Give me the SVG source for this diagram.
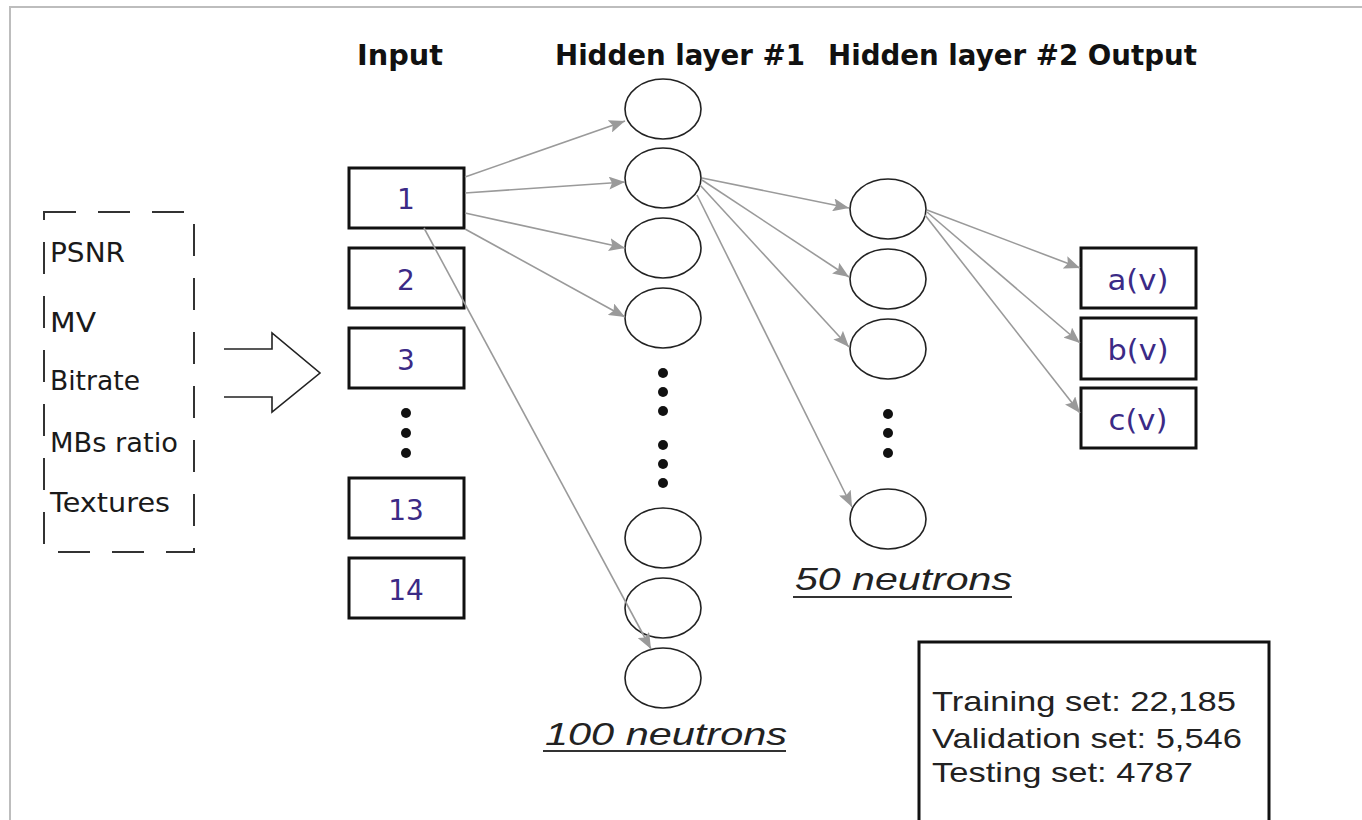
<svg xmlns="http://www.w3.org/2000/svg" width="1362" height="820" viewBox="0 0 1362 820">
  <style>
    .title { font-family: "DejaVu Sans", Verdana, sans-serif; font-weight: bold; font-size: 27.5px; fill: #111; }
    .feat { font-family: "DejaVu Sans", Verdana, sans-serif; font-size: 27px; fill: #1a1a1a; }
    .num { font-family: "DejaVu Sans", Verdana, sans-serif; font-size: 28px; fill: #3b2a86; text-anchor: middle; }
    .box { fill: #fff; stroke: #111; stroke-width: 3; }
    .neuron { fill: #fff; stroke: #222; stroke-width: 1.6; }
    .dot { fill: #111; }
    .edge { fill: none; stroke: #9a9a9a; stroke-width: 1.6; marker-end: url(#arrow); }
    .count { font-family: "Liberation Sans", Arial, sans-serif; font-style: italic; font-size: 32px; fill: #222; }
    .info { font-family: "Liberation Sans", Arial, sans-serif; font-size: 28px; fill: #222; }
  </style>
  <defs>
    <marker id="arrow" markerUnits="userSpaceOnUse" markerWidth="17" markerHeight="13" refX="16" refY="6.5" orient="auto">
      <path d="M0,0 L16,6.5 L0,13 L3,6.5 z" fill="#9a9a9a"/>
    </marker>
  </defs>

  <rect width="1362" height="820" fill="#fff"/>
  <!-- page frame -->
  <path d="M10,820 V7 H1362" fill="none" stroke="#bdbdbd" stroke-width="2"/>

  <!-- column headings -->
  <text class="title" x="357" y="65" textLength="86" lengthAdjust="spacingAndGlyphs">Input</text>
  <text class="title" x="555" y="65" textLength="250" lengthAdjust="spacingAndGlyphs">Hidden layer #1</text>
  <text class="title" x="828" y="65" textLength="369" lengthAdjust="spacingAndGlyphs">Hidden layer #2 Output</text>

  <!-- feature list -->
  <g id="features">
    <rect x="44" y="212" width="150" height="340" fill="none" stroke="#333" stroke-width="2" stroke-dasharray="32 22"/>
    <text class="feat" x="50" y="262" textLength="75" lengthAdjust="spacingAndGlyphs">PSNR</text>
    <text class="feat" x="50" y="332" textLength="46" lengthAdjust="spacingAndGlyphs">MV</text>
    <text class="feat" x="50" y="390" textLength="90" lengthAdjust="spacingAndGlyphs">Bitrate</text>
    <text class="feat" x="50" y="452" textLength="128" lengthAdjust="spacingAndGlyphs">MBs ratio</text>
    <text class="feat" x="50" y="512" textLength="120" lengthAdjust="spacingAndGlyphs">Textures</text>
  </g>

  <!-- block arrow feeding the inputs -->
  <g id="feed-arrow">
    <path d="M224,349 H272 V333 L320,373 L272,412 V397 H224" fill="#fff" stroke="#222" stroke-width="1.6"/>
  </g>

  <!-- input layer -->
  <g id="in1"><rect class="box" x="349" y="168" width="115" height="60"/><text class="num" x="406" y="209">1</text></g>
  <g id="in2"><rect class="box" x="349" y="248" width="115" height="60"/><text class="num" x="406" y="290">2</text></g>
  <g id="in3"><rect class="box" x="349" y="328" width="115" height="60"/><text class="num" x="406" y="370">3</text></g>
  <g id="in-dots"><circle class="dot" cx="406" cy="413" r="5"/><circle class="dot" cx="406" cy="433" r="5"/><circle class="dot" cx="406" cy="453" r="5"/></g>
  <g id="in13"><rect class="box" x="349" y="478" width="115" height="60"/><text class="num" x="406" y="520">13</text></g>
  <g id="in14"><rect class="box" x="349" y="558" width="115" height="60"/><text class="num" x="406" y="600">14</text></g>

  <!-- hidden layer 1 -->
  <g id="h1-1"><ellipse class="neuron" cx="663" cy="109" rx="38" ry="30"/></g>
  <g id="h1-2"><ellipse class="neuron" cx="663" cy="178" rx="38" ry="30"/></g>
  <g id="h1-3"><ellipse class="neuron" cx="663" cy="248" rx="38" ry="30"/></g>
  <g id="h1-4"><ellipse class="neuron" cx="663" cy="318" rx="38" ry="30"/></g>
  <g id="h1-dots">
    <circle class="dot" cx="663" cy="373" r="5"/><circle class="dot" cx="663" cy="392" r="5"/><circle class="dot" cx="663" cy="411" r="5"/>
    <circle class="dot" cx="663" cy="445" r="5"/><circle class="dot" cx="663" cy="464" r="5"/><circle class="dot" cx="663" cy="483" r="5"/>
  </g>
  <g id="h1-98"><ellipse class="neuron" cx="663" cy="538" rx="38" ry="30"/></g>
  <g id="h1-99"><ellipse class="neuron" cx="663" cy="608" rx="38" ry="30"/></g>
  <g id="h1-100"><ellipse class="neuron" cx="663" cy="678" rx="38" ry="30"/></g>

  <!-- hidden layer 2 -->
  <g id="h2-1"><ellipse class="neuron" cx="888" cy="209" rx="38" ry="30"/></g>
  <g id="h2-2"><ellipse class="neuron" cx="888" cy="279" rx="38" ry="30"/></g>
  <g id="h2-3"><ellipse class="neuron" cx="888" cy="349" rx="38" ry="30"/></g>
  <g id="h2-dots"><circle class="dot" cx="888" cy="414" r="5"/><circle class="dot" cx="888" cy="433" r="5"/><circle class="dot" cx="888" cy="453" r="5"/></g>
  <g id="h2-50"><ellipse class="neuron" cx="888" cy="519" rx="38" ry="30"/></g>

  <!-- output layer -->
  <g id="out-a"><rect class="box" x="1081" y="248" width="115" height="60"/><text class="num" x="1138" y="290" textLength="61" lengthAdjust="spacingAndGlyphs">a(v)</text></g>
  <g id="out-b"><rect class="box" x="1081" y="318" width="115" height="61"/><text class="num" x="1138" y="360" textLength="61" lengthAdjust="spacingAndGlyphs">b(v)</text></g>
  <g id="out-c"><rect class="box" x="1081" y="388" width="115" height="60"/><text class="num" x="1138" y="430" textLength="59" lengthAdjust="spacingAndGlyphs">c(v)</text></g>

  <!-- connectors, drawn over the nodes they cross -->
  <g id="connectors">
    <line class="edge" x1="465" y1="177" x2="625" y2="121"/>
    <line class="edge" x1="465" y1="193" x2="625" y2="182"/>
    <line class="edge" x1="465" y1="213" x2="625" y2="248"/>
    <line class="edge" x1="465" y1="229" x2="625" y2="317"/>
    <line class="edge" x1="424" y1="228" x2="651" y2="649"/>
    <line class="edge" x1="702" y1="178" x2="849" y2="208"/>
    <line class="edge" x1="702" y1="180" x2="849" y2="277"/>
    <line class="edge" x1="700" y1="185" x2="849" y2="347"/>
    <line class="edge" x1="697" y1="195" x2="852" y2="507"/>
    <line class="edge" x1="927" y1="210" x2="1080" y2="268"/>
    <line class="edge" x1="927" y1="212" x2="1080" y2="343"/>
    <line class="edge" x1="925" y1="215" x2="1080" y2="413"/>
  </g>

  <!-- layer sizes -->
  <g id="size-h2">
    <text class="count" x="795" y="590" textLength="217" lengthAdjust="spacingAndGlyphs">50 neutrons</text>
    <line x1="793" y1="597" x2="1012" y2="597" stroke="#333" stroke-width="2"/>
  </g>
  <g id="size-h1">
    <text class="count" x="545" y="745" textLength="242" lengthAdjust="spacingAndGlyphs">100 neutrons</text>
    <line x1="543" y1="751" x2="786" y2="751" stroke="#333" stroke-width="2"/>
  </g>

  <!-- dataset split -->
  <g id="dataset">
    <rect x="919" y="642" width="350" height="200" fill="#fff" stroke="#111" stroke-width="3"/>
    <text class="info" x="932" y="711" textLength="304" lengthAdjust="spacingAndGlyphs">Training set: 22,185</text>
    <text class="info" x="932" y="748" textLength="310" lengthAdjust="spacingAndGlyphs">Validation set: 5,546</text>
    <text class="info" x="932" y="782" textLength="261" lengthAdjust="spacingAndGlyphs">Testing set: 4787</text>
  </g>
</svg>
